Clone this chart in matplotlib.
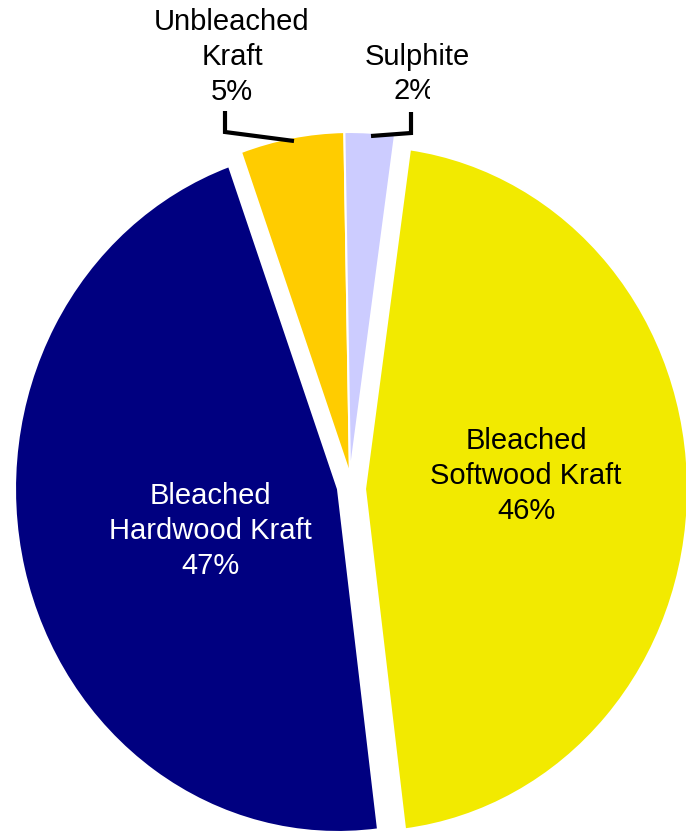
import matplotlib
matplotlib.use("Agg")
import matplotlib.pyplot as plt
from matplotlib.transforms import Bbox

# ---- data ----
categories = ["Bleached\nSoftwood Kraft", "Bleached\nHardwood Kraft", "Unbleached\nKraft", "Sulphite"]
shares = [45.8, 46.5, 5.2, 2.5]          # slice sizes as drawn
pct_labels = [46, 47, 5, 2]              # percentages as printed
colors = ["#F2EA00", "#000080", "#FFCC00", "#CCCCFF"]
text_colors = ["black", "white", "black", "black"]

# ---- layout (pixel geometry of the reference) ----
W, H = 686, 836
CX, CY = 338, 489        # pie centre in pixels
RX, RY = 323, 343        # pie radius in pixels (image is slightly stretched)
START = 82.0
offsets_px = [(27, 0), (0, 0), (12, 14), (12, 14)]
label_px = [(526, 476), (210, 531), (232, 57), (416, 74)]
FS = 21
LS = 1.33
FONT = ["Liberation Sans", "DejaVu Sans"]


def px(x, y):
    return (x - CX) / RX, (CY - y) / RY


fig = plt.figure(figsize=(W / 100, H / 100), dpi=100)
ax = fig.add_axes([0, 0, 1, 1])
wedges, _ = ax.pie(shares, colors=colors, startangle=START, counterclock=False,
                   radius=1.0, center=(0, 0),
                   wedgeprops=dict(edgecolor="white", linewidth=1.5))
for w, (ox, oy) in zip(wedges, offsets_px):
    w.set_center((ox / RX, oy / RY))

ax.set_aspect("auto")
ax.set_xlim(-CX / RX, (W - CX) / RX)
ax.set_ylim((CY - H) / RY, CY / RY)
ax.axis("off")

# labels
for cat, val, tc, (lx, ly) in zip(categories, pct_labels, text_colors, label_px):
    if cat == "Sulphite":
        x, y = px(lx + 1, 57)
        ax.text(x, y, cat, ha="center", va="center", color=tc,
                fontsize=FS, family=FONT)
        x, y = px(lx - 1, 91)
        t = ax.text(x, y, f"{val}%", ha="center", va="center", color=tc,
                    fontsize=FS, family=FONT)
        t.set_clip_box(Bbox([[0, 0], [430, H]]))
        t.set_clip_on(True)
    else:
        x, y = px(lx, ly)
        ax.text(x, y, f"{cat}\n{val}%", ha="center", va="center", color=tc,
                fontsize=FS, family=FONT, linespacing=LS)

# leader lines
lead1 = [px(225, 111), px(225, 132), px(294, 141)]
lead2 = [px(411, 112), px(411, 133), px(371, 136)]
for pts in (lead1, lead2):
    xs, ys = zip(*pts)
    ax.plot(xs, ys, color="black", linewidth=3.0, solid_joinstyle="miter",
            solid_capstyle="butt")

fig.savefig("out.png", dpi=100)
